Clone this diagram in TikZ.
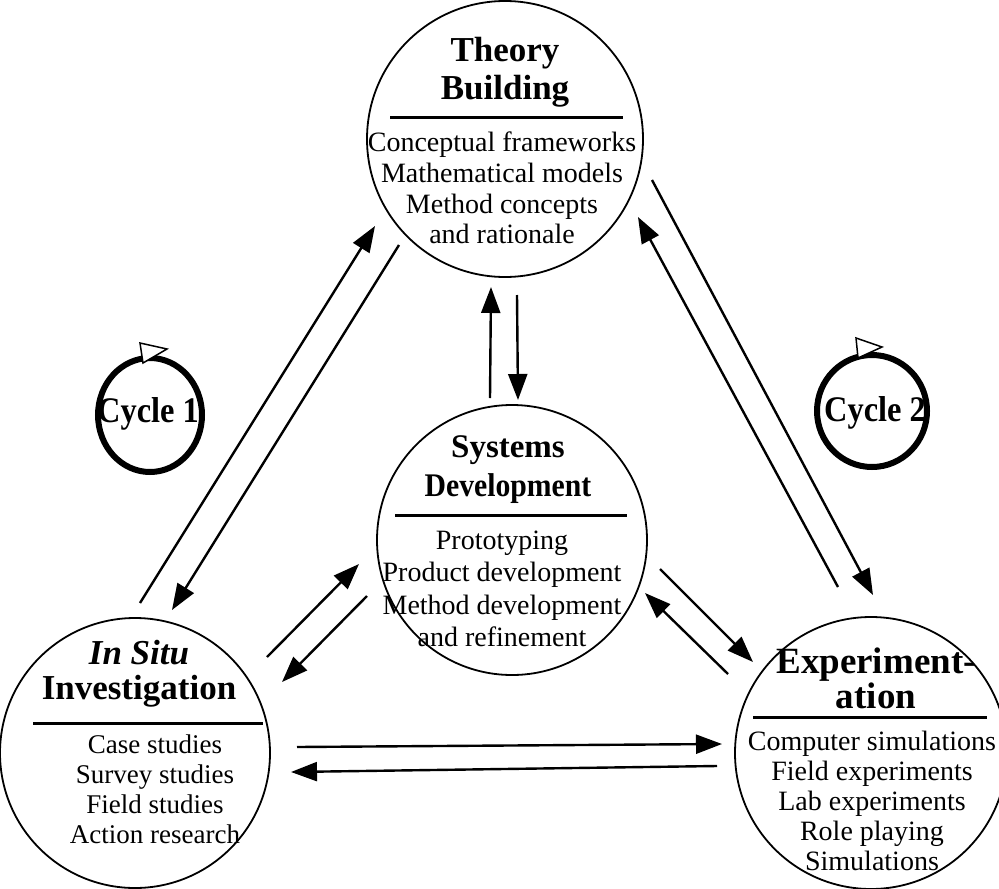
\documentclass[tikz,border=0pt]{standalone}
\usepackage{fontspec}
\usepackage{graphicx}
\setmainfont{Liberation Serif}
\usetikzlibrary{arrows.meta}

\tikzset{
  phase/.style={circle, draw, line width=1.8pt, inner sep=0pt},
  heading/.style={font=\fontsize{35}{38}\selectfont\bfseries, align=center, inner sep=0pt},
  items/.style={font=\fontsize{28}{34.5}\selectfont, align=center, inner sep=0pt},
  rulebar/.style={line width=3pt},
  flow/.style={line width=2.4pt, -{Triangle[length=26pt,width=19pt]}},
  ring/.style={line width=6pt},
  ringtip/.style={fill=white, draw, line width=1.5pt, line join=miter},
  ringlabel/.style={font=\fontsize{36}{38}\selectfont\bfseries, inner sep=0pt},
}

\begin{document}
\begin{tikzpicture}[x=1pt, y=-1pt]
\useasboundingbox (0,0) rectangle (999,889);

% the four research phases
\node[phase, minimum size=276pt] (tb) at (505,139) {};
\node[phase, minimum size=270pt] (sd) at (512,540) {};
\node[phase, minimum size=270pt] (is) at (135,753) {};
\node[phase, minimum size=272pt] (ex) at (871,753) {};

% Theory Building
\node[heading] (tbh) at (505,72) {Theory\\Building};
\draw[rulebar] (390,117) -- (623,117);
\node[items, font=\fontsize{28}{30.6}\selectfont] (tbi) at (502,188) {Conceptual frameworks\\Mathematical models\\Method concepts\\and rationale};

% Systems Development
\node[heading, font=\fontsize{33}{39}\selectfont\bfseries] (sdh) at (508,470) {Systems\\\scalebox{0.9}[1]{Development}};
\draw[rulebar] (395,515) -- (627,515);
\node[items, font=\fontsize{28}{32.3}\selectfont] (sdi) at (502,589) {Prototyping\\Product development\\Method development\\and refinement};

% In Situ Investigation
\node[heading, font=\fontsize{35}{35}\selectfont\bfseries] (ish) at (139,674) {\textit{In Situ}\\Investigation};
\draw[rulebar] (33,723) -- (263,723);
\node[items, font=\fontsize{27}{30}\selectfont] (isi) at (155,789) {Case studies\\Survey studies\\Field studies\\Action research};

% Experimentation
\node[heading, font=\fontsize{37}{35}\selectfont\bfseries] (exh) at (876,678) {Experiment-\\ation};
\draw[rulebar] (753,717) -- (987,717);
\node[items, font=\fontsize{28}{29.8}\selectfont] (exi) at (872,801) {Computer simulations\\Field experiments\\Lab experiments\\Role playing\\Simulations};

% connector end points
\coordinate (a1s) at (140,603); \coordinate (a1e) at (375,226);
\coordinate (a2s) at (399,245); \coordinate (a2e) at (172,610);
\coordinate (a3s) at (490,398); \coordinate (a3e) at (491,287);
\coordinate (a4s) at (517,295); \coordinate (a4e) at (518,400);
\coordinate (a5s) at (652,180); \coordinate (a5e) at (873,595);
\coordinate (a6s) at (838,587); \coordinate (a6e) at (638,217);
\coordinate (a7s) at (267,657); \coordinate (a7e) at (359,564);
\coordinate (a8s) at (367,596); \coordinate (a8e) at (282,682);
\coordinate (a9s) at (660,569); \coordinate (a9e) at (753,662);
\coordinate (a10s) at (728,674); \coordinate (a10e) at (645,593);
\coordinate (a11s) at (297,747); \coordinate (a11e) at (722,744);
\coordinate (a12s) at (717,766); \coordinate (a12e) at (291,772);

\foreach \k in {1,...,12} \draw[flow] (a\k s) -- (a\k e);

% the two cycles
\draw[ring] (150,415) ellipse [x radius=52, y radius=57];
\node[ringlabel] (c1) at (148,414) {\scalebox{0.9}[1]{Cycle 1}};
\draw[ringtip] (140,343) -- (167,349) -- (143,363) -- cycle;

\draw[ring] (872,411) ellipse [x radius=55, y radius=56];
\node[ringlabel] (c2) at (875,413) {\scalebox{0.9}[1]{Cycle 2}};
\draw[ringtip] (856,338) -- (882,347) -- (858,358) -- cycle;
\end{tikzpicture}
\end{document}
